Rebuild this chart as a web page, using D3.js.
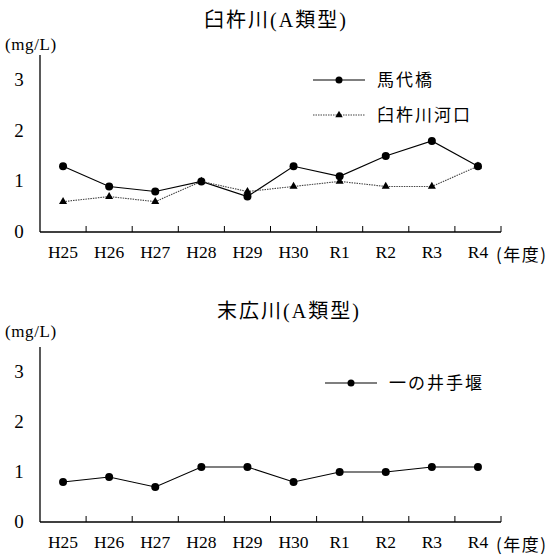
<!DOCTYPE html>
<html><head><meta charset="utf-8">
<script src="https://cdn.jsdelivr.net/npm/d3@7"></script>
</head>
<body style="margin:0;background:#fff">
<script>
const years = ["H25","H26","H27","H28","H29","H30","R1","R2","R3","R4"];
const yTicks = [0,1,2,3];
const usukiTitle = ["臼杵川","(A","類型",")"];
const suehiroTitle = ["末広川","(A","類型",")"];
const madaibashi = [1.3,0.9,0.8,1.0,0.7,1.3,1.1,1.5,1.8,1.3];
const kakou = [0.6,0.7,0.6,1.0,0.8,0.9,1.0,0.9,0.9,1.3];
const ichinoideseki = [0.8,0.9,0.7,1.1,1.1,0.8,1.0,1.0,1.1,1.1];

const SERIF = "Liberation Serif";
const JP = "Noto Sans CJK JP";
const svg = d3.select("body").append("svg").attr("width",550).attr("height",557);

function panel(cfg){
  const x = d3.scaleBand().domain(years).range([40,501]);
  const y = d3.scaleLinear().domain([0,3.5]).range([cfg.y0, cfg.y0 - 3.5*cfg.unit]);
  // title
  const t = svg.append("text").attr("x",cfg.titleX).attr("y",cfg.titleY).attr("text-anchor","middle")
    .attr("font-size",20).attr("letter-spacing",2).attr("font-family",SERIF);
  cfg.title.forEach((p,i)=>t.append("tspan").attr("font-family", i%2===0?JP:SERIF).text(p));
  svg.append("text").attr("x",5).attr("y",cfg.unitY).attr("font-size",17).attr("letter-spacing",0.6)
    .attr("font-family",SERIF).text("(mg/L)");
  svg.append("line").attr("x1",40).attr("x2",40).attr("y1",y(3.5)).attr("y2",y(0)).attr("stroke","#000").attr("stroke-width",1.3);
  svg.selectAll(null).data(yTicks).join("text").attr("x",19).attr("y",d=>y(d)+6)
    .attr("text-anchor","middle").attr("font-size",19).attr("font-family",SERIF).text(d=>d);
  svg.selectAll(null).data(years).join("text").attr("x",d=>x(d)+x.bandwidth()/2).attr("y",y(0)+26)
    .attr("text-anchor","middle").attr("font-size",17.5).attr("font-family",SERIF).text(d=>d);
  svg.append("line").attr("x1",40).attr("x2",501).attr("y1",y(0)).attr("y2",y(0)).attr("stroke","#000").attr("stroke-width",1.3);
  const edges = years.map(d=>x(d)).concat([x.range()[1]]).slice(1);
  svg.selectAll(null).data(edges).join("line").attr("x1",d=>d).attr("x2",d=>d)
    .attr("y1",y(0)).attr("y2",y(0)-6).attr("stroke","#000");
  svg.append("text").attr("x",496).attr("y",y(0)+29).attr("font-size",17).attr("letter-spacing",1.5)
    .attr("font-family",JP).text("(年度)");
  const cx = d=>x(d)+x.bandwidth()/2;
  cfg.series.forEach(s=>{
    const line = d3.line().x((d,i)=>cx(years[i])).y(d=>y(d));
    svg.append("path").datum(s.values).attr("d",line).attr("fill","none")
      .attr("stroke",s.dash?"#444":"#000").attr("stroke-width",1.1)
      .attr("stroke-dasharray",s.dash?"1.5,1":null);
    if(s.marker==="circle"){
      svg.selectAll(null).data(s.values).join("circle").attr("cx",(d,i)=>cx(years[i])).attr("cy",d=>y(d)).attr("r",4);
    } else {
      const tri = d3.symbol().type(d3.symbolTriangle).size(28);
      svg.selectAll(null).data(s.values).join("path").attr("d",tri)
        .attr("transform",(d,i)=>`translate(${cx(years[i])},${y(d)})`);
    }
  });
  cfg.series.forEach((s,k)=>{
    const ly = cfg.legY + k*35;
    svg.append("line").attr("x1",cfg.legX).attr("x2",cfg.legX+52).attr("y1",ly).attr("y2",ly)
      .attr("stroke",s.dash?"#444":"#000").attr("stroke-width",1.1).attr("stroke-dasharray",s.dash?"1.5,1":null);
    if(s.marker==="circle") svg.append("circle").attr("cx",cfg.legX+26).attr("cy",ly).attr("r",3.5);
    else svg.append("path").attr("d",d3.symbol().type(d3.symbolTriangle).size(24)).attr("transform",`translate(${cfg.legX+26},${ly})`);
    svg.append("text").attr("x",cfg.legX+64).attr("y",ly+6).attr("font-size",17).attr("font-family",JP)
      .attr("letter-spacing",2).text(s.name);
  });
}

panel({title:usukiTitle,titleX:276,titleY:27,unitY:50,y0:232,unit:50.6,legX:313,legY:80,
  series:[{name:"馬代橋",values:madaibashi,marker:"circle"},{name:"臼杵川河口",values:kakou,marker:"tri",dash:true}]});
panel({title:suehiroTitle,titleX:289,titleY:318,unitY:337,y0:522,unit:50,legX:325,legY:383,
  series:[{name:"一の井手堰",values:ichinoideseki,marker:"circle"}]});
</script></body></html>
